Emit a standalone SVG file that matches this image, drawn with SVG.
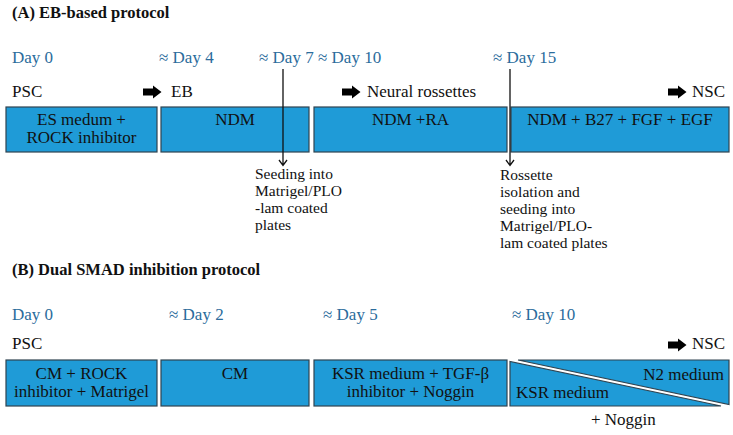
<svg xmlns="http://www.w3.org/2000/svg" width="733" height="435" viewBox="0 0 733 435">
<style>
text{font-family:"Liberation Serif","Times New Roman",serif;fill:#111;}
.t{font-size:16.5px;font-weight:bold;}
.d{font-size:17px;fill:#2b6c9c;}
.l{font-size:17px;}
.b{font-size:17px;text-anchor:middle;}
.n{font-size:15.5px;}
.box{fill:#1f9bd7;stroke:#2f4350;stroke-width:1.2;}
.ln{stroke:#111;stroke-width:1.3;fill:none;}
</style>
<defs>
<path id="arr" d="M0,-3.5 H10 V-6.5 L18.5,0 L10,6.5 V3.5 H0 Z" fill="#000"/>
<marker id="open" viewBox="0 0 10 10" refX="5" refY="9" markerWidth="10" markerHeight="10" markerUnits="userSpaceOnUse" orient="auto-start-reverse">
</marker>
</defs>
<text class="t" x="12" y="18">(A) EB-based protocol</text>
<g id="daysA">
<text class="d" x="12" y="63">Day 0</text>
<text class="d" x="159" y="63">≈ Day 4</text>
<text class="d" x="259" y="63">≈ Day 7</text>
<text class="d" x="318" y="63">≈ Day 10</text>
<text class="d" x="493" y="63">≈ Day 15</text>
</g>
<g id="stagesA">
<text class="l" x="12" y="97">PSC</text>
<use href="#arr" x="143" y="92"/>
<text class="l" x="171" y="97">EB</text>
<use href="#arr" x="342" y="92"/>
<text class="l" x="367" y="97">Neural rossettes</text>
<use href="#arr" x="668" y="92"/>
<text class="l" x="692" y="97">NSC</text>
</g>
<g id="a1"><rect class="box" x="6" y="107" width="151" height="45"/>
<text class="b" x="81.5" y="125">ES medum +</text><text class="b" x="81.5" y="143">ROCK inhibitor</text></g>
<g id="a2"><rect class="box" x="161" y="107" width="148" height="45"/>
<text class="b" x="235" y="125">NDM</text></g>
<g id="a3"><rect class="box" x="314" y="107" width="193" height="45"/>
<text class="b" x="410.5" y="125">NDM +RA</text></g>
<g id="a4"><rect class="box" x="511" y="107" width="218" height="45"/>
<text class="b" x="620" y="125">NDM + B27 + FGF + EGF</text></g>
<g id="connectors">
<path class="ln" d="M283,69 V165 M279,160 L283,165.5 L287,160"/>
<path class="ln" d="M510,69 V165 M506,160 L510,165.5 L514,160"/>
</g>
<g id="noteA1">
<text class="n" x="255" y="179">Seeding into</text>
<text class="n" x="255" y="196">Matrigel/PLO</text>
<text class="n" x="255" y="213">-lam coated</text>
<text class="n" x="255" y="230">plates</text>
</g>
<g id="noteA2">
<text class="n" x="500" y="180">Rossette</text>
<text class="n" x="500" y="197">isolation and</text>
<text class="n" x="500" y="214">seeding into</text>
<text class="n" x="500" y="231">Matrigel/PLO-</text>
<text class="n" x="500" y="248">lam coated plates</text>
</g>
<text class="t" x="12" y="275">(B) Dual SMAD inhibition protocol</text>
<g id="daysB">
<text class="d" x="12" y="320">Day 0</text>
<text class="d" x="169" y="320">≈ Day 2</text>
<text class="d" x="323" y="320">≈ Day 5</text>
<text class="d" x="512" y="320">≈ Day 10</text>
</g>
<g id="stagesB">
<text class="l" x="12" y="349">PSC</text>
<use href="#arr" x="668" y="345"/>
<text class="l" x="692" y="349">NSC</text>
</g>
<g id="b1"><rect class="box" x="6" y="360" width="151" height="46"/>
<text class="b" x="81.5" y="379">CM + ROCK</text><text class="b" x="81.5" y="397">inhibitor + Matrigel</text></g>
<g id="b2"><rect class="box" x="161" y="360" width="148" height="46"/>
<text class="b" x="235" y="379">CM</text></g>
<g id="b3"><rect class="box" x="314" y="360" width="193" height="46"/>
<text class="b" x="410.5" y="379">KSR medium + TGF-β</text><text class="b" x="410.5" y="397">inhibitor + Noggin</text></g>
<g id="b4">
<polygon class="box" points="510,361.5 510,406 721,406"/>
<polygon class="box" points="518,360 729,360 729,404.5"/>
<text class="l" x="724" y="380" text-anchor="end">N2 medium</text>
<text class="l" x="516" y="398">KSR medium</text>
<text class="l" x="591" y="425">+ Noggin</text>
</g>
</svg>
